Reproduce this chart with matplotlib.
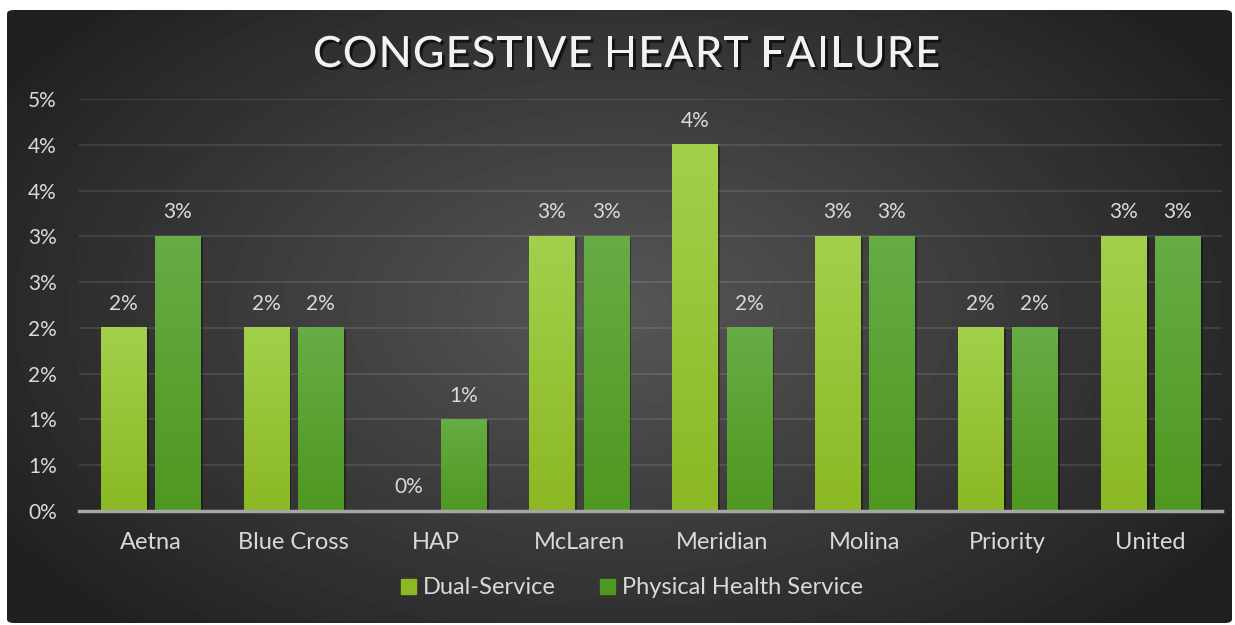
import math

import numpy as np
import matplotlib
matplotlib.use("Agg")
import matplotlib.pyplot as plt
from matplotlib import patheffects as pe
from matplotlib.patches import FancyBboxPatch, Rectangle
from matplotlib.colors import LinearSegmentedColormap

plt.rcParams['font.family'] = ['Lato', 'DejaVu Sans']

title = 'CONGESTIVE HEART FAILURE'
categories = ['Aetna', 'Blue Cross', 'HAP', 'McLaren', 'Meridian', 'Molina', 'Priority', 'United']
series_names = ['Dual-Service', 'Physical Health Service']
dual_service = [2.0, 2.0, 0.0, 3.0, 4.0, 3.0, 2.0, 3.0]
physical_health = [3.0, 2.0, 1.0, 3.0, 2.0, 3.0, 2.0, 3.0]
y_ticks = [0.0, 0.5, 1.0, 1.5, 2.0, 2.5, 3.0, 3.5, 4.0, 4.5]

# colours: (bottom, top) of each bar gradient
dual_colors = ('#8bb823', '#a2d04c')
phys_colors = ('#4f9820', '#67ac45')
text_col = '#d9d9d9'


def pct(v):
    # excel style rounding, half goes up
    return '%d%%' % math.floor(v + 0.5)


fig = plt.figure(figsize=(12.35, 6.25), dpi=100, facecolor='white')

# dark radial background
bg = fig.add_axes([7 / 1235, 2 / 625, 1225 / 1235, 613 / 625])
bg.set_axis_off()
h, w = 613, 1225
yy, xx = np.mgrid[0:h, 0:w]
d = np.sqrt(((xx - 610) / 720.0) ** 2 + ((yy - 300) / 430.0) ** 2)
shade = 0.34 - 0.21 * np.clip(d, 0, 1)
im = bg.imshow(shade, cmap='gray', vmin=0, vmax=1, extent=(0, 1, 0, 1),
               aspect='auto', interpolation='bilinear')
clip = FancyBboxPatch((0, 0), 1, 1, boxstyle='round,pad=0,rounding_size=0.006',
                      transform=bg.transAxes, facecolor='none', edgecolor='none')
bg.add_patch(clip)
im.set_clip_path(clip)

# main chart
ax = fig.add_axes([79 / 1235, 1 - 511 / 625, (1222 - 79) / 1235, (511 - 99) / 625])
ax.patch.set_alpha(0)
x = np.arange(len(categories))
bw = 0.315
off = 0.19
shadow = [pe.SimplePatchShadow(offset=(2, -1), shadow_rgbFace='black', alpha=0.35), pe.Normal()]
b1 = ax.bar(x - off, dual_service, bw, color=dual_colors[1], zorder=2, path_effects=shadow)
b2 = ax.bar(x + off, physical_health, bw, color=phys_colors[1], zorder=2, path_effects=shadow)

grad = np.linspace(1, 0, 256).reshape(-1, 1)
for bars, cols in [(b1, dual_colors), (b2, phys_colors)]:
    cmap = LinearSegmentedColormap.from_list('g', list(cols))
    for b in bars:
        if b.get_height() <= 0:
            continue
        ax.imshow(grad, cmap=cmap, vmin=0, vmax=1, aspect='auto', zorder=3,
                  extent=(b.get_x(), b.get_x() + b.get_width(), 0, b.get_height()))
ax.set_xlim(-0.5, len(categories) - 0.5)
ax.set_ylim(0, 4.5)

ax.set_axisbelow(True)
ax.yaxis.grid(True, color='white', alpha=0.1, lw=1.5)
for s in ['top', 'right', 'left']:
    ax.spines[s].set_visible(False)
ax.spines['bottom'].set_color('#a6a6a6')
ax.spines['bottom'].set_linewidth(2.5)
ax.spines['bottom'].set_zorder(4)

ax.set_yticks(y_ticks, [pct(v) for v in y_ticks])
ax.set_xticks(x, categories)
ax.tick_params(axis='y', length=0, labelsize=15, labelcolor=text_col, pad=16)
ax.tick_params(axis='x', length=0, labelsize=17, labelcolor=text_col, pad=15)

ax.bar_label(b1, labels=[pct(v) for v in dual_service], padding=10, color=text_col, fontsize=15)
ax.bar_label(b2, labels=[pct(v) for v in physical_health], padding=10, color=text_col, fontsize=15)

handles = [Rectangle((0, 0), 1, 1, color=dual_colors[0]), Rectangle((0, 0), 1, 1, color=phys_colors[0])]
fig.legend(handles, series_names, loc='center', bbox_to_anchor=(632 / 1235, 1 - 588 / 625),
           ncol=2, frameon=False, fontsize=17, handlelength=0.6, handleheight=0.6,
           handletextpad=0.3, columnspacing=1.9, labelcolor=text_col)

# title with letter spacing: place each char by hand
r = fig.canvas.get_renderer()
tprops = dict(fontsize=31, weight='medium', color='#f2f2f2', va='center', ha='left',
              path_effects=[pe.withSimplePatchShadow(offset=(2, -2), shadow_rgbFace='black', alpha=0.6)])
widths = []
for ch in title:
    if ch == ' ':
        widths.append(9.0)
        continue
    t = fig.text(0, 0, ch, **tprops)
    widths.append(t.get_window_extent(r).width)
    t.remove()
left, right = 313.0, 940.0
track = (right - left - sum(widths)) / (len(title) - 1)
xp = left
for ch, cw in zip(title, widths):
    if ch != ' ':
        fig.text(xp / 1235, 1 - 55 / 625, ch, **tprops)
    xp += cw + track

fig.savefig('out.png', dpi=100, facecolor='white')
